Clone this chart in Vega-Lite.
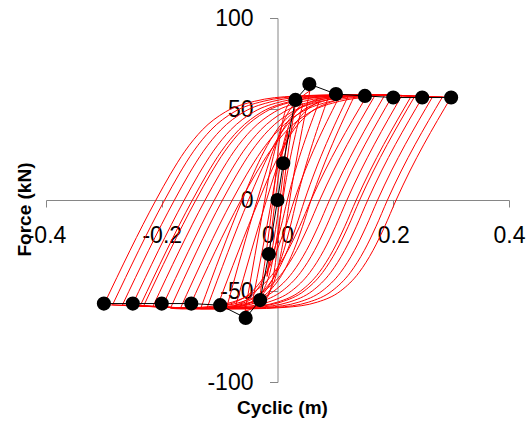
{
  "$schema": "https://vega.github.io/schema/vega-lite/v6.json",
  "width": 463,
  "height": 364,
  "autosize": "none",
  "padding": {"left": 46, "top": 18, "right": 22, "bottom": 41},
  "background": "white",
  "config": {"view": {"stroke": null}, "font": "Liberation Sans"},
  "datasets": {
    "loops": [
      {"s":"1d","disp":0.3,"force":56.5},{"s":"1d","disp":0.205,"force":0},{"s":"1d","disp":0.185,"force":-14.7},{"s":"1d","disp":0.165,"force":-27.7},{"s":"1d","disp":0.141,"force":-39.8},{"s":"1d","disp":0.109,"force":-50},{"s":"1d","disp":0.069,"force":-56.1},{"s":"1d","disp":0.013,"force":-59},{"s":"1d","disp":-0.051,"force":-59.8},{"s":"1d","disp":-0.3,"force":-57.5},
      {"s":"1a","disp":-0.3,"force":-57.5},{"s":"1a","disp":-0.21,"force":0},{"s":"1a","disp":-0.185,"force":14.2},{"s":"1a","disp":-0.16,"force":26.8},{"s":"1a","disp":-0.13,"force":38.5},{"s":"1a","disp":-0.09,"force":48.4},{"s":"1a","disp":-0.04,"force":54.2},{"s":"1a","disp":0.03,"force":57.1},{"s":"1a","disp":0.11,"force":57.8},{"s":"1a","disp":0.3,"force":56.5},
      {"s":"2d","disp":0.285,"force":56.6},{"s":"2d","disp":0.19,"force":0},{"s":"2d","disp":0.17,"force":-14.7},{"s":"2d","disp":0.15,"force":-27.7},{"s":"2d","disp":0.126,"force":-39.8},{"s":"2d","disp":0.094,"force":-50},{"s":"2d","disp":0.054,"force":-56.1},{"s":"2d","disp":-0.002,"force":-59},{"s":"2d","disp":-0.066,"force":-59.8},{"s":"2d","disp":-0.285,"force":-57.6},
      {"s":"2a","disp":-0.285,"force":-57.6},{"s":"2a","disp":-0.195,"force":0},{"s":"2a","disp":-0.17,"force":14.2},{"s":"2a","disp":-0.145,"force":26.8},{"s":"2a","disp":-0.115,"force":38.5},{"s":"2a","disp":-0.075,"force":48.4},{"s":"2a","disp":-0.025,"force":54.2},{"s":"2a","disp":0.045,"force":57.1},{"s":"2a","disp":0.125,"force":57.8},{"s":"2a","disp":0.285,"force":56.6},
      {"s":"3d","disp":0.268,"force":56.7},{"s":"3d","disp":0.173,"force":0},{"s":"3d","disp":0.153,"force":-14.7},{"s":"3d","disp":0.133,"force":-27.7},{"s":"3d","disp":0.109,"force":-39.8},{"s":"3d","disp":0.077,"force":-50},{"s":"3d","disp":0.037,"force":-56.1},{"s":"3d","disp":-0.019,"force":-59},{"s":"3d","disp":-0.083,"force":-59.8},{"s":"3d","disp":-0.268,"force":-57.7},
      {"s":"3a","disp":-0.268,"force":-57.7},{"s":"3a","disp":-0.178,"force":0},{"s":"3a","disp":-0.153,"force":14.2},{"s":"3a","disp":-0.128,"force":26.8},{"s":"3a","disp":-0.098,"force":38.5},{"s":"3a","disp":-0.058,"force":48.4},{"s":"3a","disp":-0.008,"force":54.2},{"s":"3a","disp":0.062,"force":57.1},{"s":"3a","disp":0.142,"force":57.8},{"s":"3a","disp":0.268,"force":56.7},
      {"s":"4d","disp":0.251,"force":56.7},{"s":"4d","disp":0.156,"force":0},{"s":"4d","disp":0.136,"force":-14.7},{"s":"4d","disp":0.116,"force":-27.7},{"s":"4d","disp":0.092,"force":-39.8},{"s":"4d","disp":0.06,"force":-50},{"s":"4d","disp":0.02,"force":-56.1},{"s":"4d","disp":-0.036,"force":-59},{"s":"4d","disp":-0.1,"force":-59.8},{"s":"4d","disp":-0.251,"force":-57.8},
      {"s":"4a","disp":-0.251,"force":-57.8},{"s":"4a","disp":-0.161,"force":0},{"s":"4a","disp":-0.136,"force":14.2},{"s":"4a","disp":-0.111,"force":26.8},{"s":"4a","disp":-0.081,"force":38.5},{"s":"4a","disp":-0.041,"force":48.4},{"s":"4a","disp":0.009,"force":54.2},{"s":"4a","disp":0.079,"force":57.1},{"s":"4a","disp":0.159,"force":57.8},{"s":"4a","disp":0.251,"force":56.7},
      {"s":"5d","disp":0.237,"force":56.9},{"s":"5d","disp":0.142,"force":0},{"s":"5d","disp":0.122,"force":-14.7},{"s":"5d","disp":0.102,"force":-27.7},{"s":"5d","disp":0.078,"force":-39.8},{"s":"5d","disp":0.046,"force":-50},{"s":"5d","disp":0.006,"force":-56.1},{"s":"5d","disp":-0.05,"force":-59},{"s":"5d","disp":-0.114,"force":-59.8},{"s":"5d","disp":-0.237,"force":-58},
      {"s":"5a","disp":-0.237,"force":-58},{"s":"5a","disp":-0.147,"force":0},{"s":"5a","disp":-0.122,"force":14.2},{"s":"5a","disp":-0.097,"force":26.8},{"s":"5a","disp":-0.067,"force":38.5},{"s":"5a","disp":-0.027,"force":48.4},{"s":"5a","disp":0.023,"force":54.2},{"s":"5a","disp":0.093,"force":57.1},{"s":"5a","disp":0.173,"force":57.8},{"s":"5a","disp":0.237,"force":56.9},
      {"s":"6d","disp":0.231,"force":57},{"s":"6d","disp":0.136,"force":0},{"s":"6d","disp":0.116,"force":-14.7},{"s":"6d","disp":0.096,"force":-27.7},{"s":"6d","disp":0.072,"force":-39.8},{"s":"6d","disp":0.04,"force":-50},{"s":"6d","disp":0,"force":-56.1},{"s":"6d","disp":-0.056,"force":-59},{"s":"6d","disp":-0.12,"force":-59.8},{"s":"6d","disp":-0.231,"force":-58},
      {"s":"6a","disp":-0.231,"force":-58},{"s":"6a","disp":-0.141,"force":0},{"s":"6a","disp":-0.116,"force":14.2},{"s":"6a","disp":-0.091,"force":26.8},{"s":"6a","disp":-0.061,"force":38.5},{"s":"6a","disp":-0.021,"force":48.4},{"s":"6a","disp":0.029,"force":54.2},{"s":"6a","disp":0.099,"force":57.1},{"s":"6a","disp":0.179,"force":57.8},{"s":"6a","disp":0.231,"force":57},
      {"s":"7d","disp":0.215,"force":57.5},{"s":"7d","disp":0.12,"force":0},{"s":"7d","disp":0.1,"force":-14.7},{"s":"7d","disp":0.08,"force":-27.7},{"s":"7d","disp":0.056,"force":-39.8},{"s":"7d","disp":0.024,"force":-50},{"s":"7d","disp":-0.016,"force":-56.1},{"s":"7d","disp":-0.072,"force":-59},{"s":"7d","disp":-0.136,"force":-59.8},{"s":"7d","disp":-0.215,"force":-58.3},
      {"s":"7a","disp":-0.215,"force":-58.3},{"s":"7a","disp":-0.125,"force":0},{"s":"7a","disp":-0.1,"force":14.2},{"s":"7a","disp":-0.075,"force":26.8},{"s":"7a","disp":-0.045,"force":38.5},{"s":"7a","disp":-0.005,"force":48.4},{"s":"7a","disp":0.045,"force":54.2},{"s":"7a","disp":0.115,"force":57.1},{"s":"7a","disp":0.195,"force":57.8},{"s":"7a","disp":0.215,"force":57.5},
      {"s":"8d","disp":0.199,"force":57.5},{"s":"8d","disp":0.104,"force":0},{"s":"8d","disp":0.084,"force":-14.7},{"s":"8d","disp":0.064,"force":-27.7},{"s":"8d","disp":0.04,"force":-39.8},{"s":"8d","disp":0.008,"force":-50},{"s":"8d","disp":-0.032,"force":-56.1},{"s":"8d","disp":-0.088,"force":-59},{"s":"8d","disp":-0.152,"force":-59.8},{"s":"8d","disp":-0.199,"force":-58.5},
      {"s":"8a","disp":-0.199,"force":-58.5},{"s":"8a","disp":-0.109,"force":0},{"s":"8a","disp":-0.084,"force":14.2},{"s":"8a","disp":-0.059,"force":26.8},{"s":"8a","disp":-0.029,"force":38.5},{"s":"8a","disp":0.011,"force":48.4},{"s":"8a","disp":0.061,"force":54.2},{"s":"8a","disp":0.131,"force":57.1},{"s":"8a","disp":0.199,"force":57.5},
      {"s":"9d","disp":0.185,"force":57.5},{"s":"9d","disp":0.09,"force":0},{"s":"9d","disp":0.07,"force":-14.7},{"s":"9d","disp":0.05,"force":-27.7},{"s":"9d","disp":0.026,"force":-39.8},{"s":"9d","disp":-0.006,"force":-50},{"s":"9d","disp":-0.046,"force":-56.1},{"s":"9d","disp":-0.102,"force":-59},{"s":"9d","disp":-0.166,"force":-59.8},{"s":"9d","disp":-0.185,"force":-59.5},
      {"s":"9a","disp":-0.185,"force":-59.5},{"s":"9a","disp":-0.095,"force":0},{"s":"9a","disp":-0.07,"force":14.2},{"s":"9a","disp":-0.045,"force":26.8},{"s":"9a","disp":-0.015,"force":38.5},{"s":"9a","disp":0.025,"force":48.4},{"s":"9a","disp":0.075,"force":54.2},{"s":"9a","disp":0.145,"force":57.1},{"s":"9a","disp":0.185,"force":57.5},
      {"s":"10d","disp":0.168,"force":57.2},{"s":"10d","disp":0.073,"force":0},{"s":"10d","disp":0.053,"force":-14.7},{"s":"10d","disp":0.033,"force":-27.7},{"s":"10d","disp":0.009,"force":-39.8},{"s":"10d","disp":-0.023,"force":-50},{"s":"10d","disp":-0.063,"force":-56.1},{"s":"10d","disp":-0.119,"force":-59},{"s":"10d","disp":-0.168,"force":-59.7},
      {"s":"10a","disp":-0.168,"force":-59.7},{"s":"10a","disp":-0.078,"force":0},{"s":"10a","disp":-0.053,"force":14.2},{"s":"10a","disp":-0.028,"force":26.8},{"s":"10a","disp":0.002,"force":38.5},{"s":"10a","disp":0.042,"force":48.4},{"s":"10a","disp":0.092,"force":54.2},{"s":"10a","disp":0.168,"force":57.2},
      {"s":"11d","disp":0.153,"force":56.5},{"s":"11d","disp":0.058,"force":0},{"s":"11d","disp":0.038,"force":-14.7},{"s":"11d","disp":0.018,"force":-27.7},{"s":"11d","disp":-0.006,"force":-39.8},{"s":"11d","disp":-0.038,"force":-50},{"s":"11d","disp":-0.078,"force":-56.1},{"s":"11d","disp":-0.134,"force":-59},{"s":"11d","disp":-0.153,"force":-59.3},
      {"s":"11a","disp":-0.153,"force":-59.3},{"s":"11a","disp":-0.063,"force":0},{"s":"11a","disp":-0.038,"force":14.2},{"s":"11a","disp":-0.013,"force":26.8},{"s":"11a","disp":0.017,"force":38.5},{"s":"11a","disp":0.057,"force":48.4},{"s":"11a","disp":0.107,"force":54.2},{"s":"11a","disp":0.153,"force":56.5},
      {"s":"12d","disp":0.133,"force":57.3},{"s":"12d","disp":0.058,"force":0},{"s":"12d","disp":0.043,"force":-14.7},{"s":"12d","disp":0.028,"force":-27.7},{"s":"12d","disp":0.01,"force":-39.8},{"s":"12d","disp":-0.014,"force":-50},{"s":"12d","disp":-0.044,"force":-56.1},{"s":"12d","disp":-0.086,"force":-59},{"s":"12d","disp":-0.133,"force":-59.8},
      {"s":"12a","disp":-0.133,"force":-59.8},{"s":"12a","disp":-0.061,"force":0},{"s":"12a","disp":-0.042,"force":14.2},{"s":"12a","disp":-0.023,"force":26.8},{"s":"12a","disp":-0.001,"force":38.5},{"s":"12a","disp":0.029,"force":48.4},{"s":"12a","disp":0.067,"force":54.2},{"s":"12a","disp":0.119,"force":57.1},{"s":"12a","disp":0.133,"force":57.3},
      {"s":"13d","disp":0.122,"force":57},{"s":"13d","disp":0.047,"force":0},{"s":"13d","disp":0.032,"force":-14.7},{"s":"13d","disp":0.017,"force":-27.7},{"s":"13d","disp":-0.001,"force":-39.8},{"s":"13d","disp":-0.025,"force":-50},{"s":"13d","disp":-0.055,"force":-56.1},{"s":"13d","disp":-0.097,"force":-59},{"s":"13d","disp":-0.122,"force":-59.5},
      {"s":"13a","disp":-0.122,"force":-59.5},{"s":"13a","disp":-0.05,"force":0},{"s":"13a","disp":-0.031,"force":14.2},{"s":"13a","disp":-0.012,"force":26.8},{"s":"13a","disp":0.01,"force":38.5},{"s":"13a","disp":0.04,"force":48.4},{"s":"13a","disp":0.078,"force":54.2},{"s":"13a","disp":0.122,"force":57},
      {"s":"14d","disp":0.104,"force":55},{"s":"14d","disp":0.029,"force":0},{"s":"14d","disp":0.014,"force":-14.7},{"s":"14d","disp":-0.001,"force":-27.7},{"s":"14d","disp":-0.019,"force":-39.8},{"s":"14d","disp":-0.043,"force":-50},{"s":"14d","disp":-0.073,"force":-56.1},{"s":"14d","disp":-0.104,"force":-58.5},
      {"s":"14a","disp":-0.104,"force":-58.5},{"s":"14a","disp":-0.032,"force":0},{"s":"14a","disp":-0.013,"force":14.2},{"s":"14a","disp":0.006,"force":26.8},{"s":"14a","disp":0.028,"force":38.5},{"s":"14a","disp":0.058,"force":48.4},{"s":"14a","disp":0.096,"force":54.2},{"s":"14a","disp":0.104,"force":55},
      {"s":"15d","disp":0.088,"force":56.6},{"s":"15d","disp":0.033,"force":0},{"s":"15d","disp":0.022,"force":-14.7},{"s":"15d","disp":0.011,"force":-27.7},{"s":"15d","disp":-0.003,"force":-39.8},{"s":"15d","disp":-0.021,"force":-50},{"s":"15d","disp":-0.044,"force":-56.1},{"s":"15d","disp":-0.075,"force":-59},{"s":"15d","disp":-0.088,"force":-59.3},
      {"s":"15a","disp":-0.088,"force":-59.3},{"s":"15a","disp":-0.035,"force":0},{"s":"15a","disp":-0.021,"force":14.2},{"s":"15a","disp":-0.008,"force":26.8},{"s":"15a","disp":0.009,"force":38.5},{"s":"15a","disp":0.031,"force":48.4},{"s":"15a","disp":0.059,"force":54.2},{"s":"15a","disp":0.088,"force":56.6},
      {"s":"16d","disp":0.072,"force":54},{"s":"16d","disp":0.017,"force":0},{"s":"16d","disp":0.006,"force":-14.7},{"s":"16d","disp":-0.006,"force":-27.7},{"s":"16d","disp":-0.019,"force":-39.8},{"s":"16d","disp":-0.037,"force":-50},{"s":"16d","disp":-0.06,"force":-56.1},{"s":"16d","disp":-0.072,"force":-57.8},
      {"s":"16a","disp":-0.072,"force":-57.8},{"s":"16a","disp":-0.019,"force":0},{"s":"16a","disp":-0.005,"force":14.2},{"s":"16a","disp":0.009,"force":26.8},{"s":"16a","disp":0.025,"force":38.5},{"s":"16a","disp":0.047,"force":48.4},{"s":"16a","disp":0.072,"force":54},
      {"s":"17d","disp":0.056,"force":60},{"s":"17d","disp":0.021,"force":0},{"s":"17d","disp":0.014,"force":-14.7},{"s":"17d","disp":0.007,"force":-27.7},{"s":"17d","disp":-0.001,"force":-39.8},{"s":"17d","disp":-0.013,"force":-50},{"s":"17d","disp":-0.027,"force":-56.5},{"s":"17d","disp":-0.046,"force":-60},{"s":"17d","disp":-0.056,"force":-61},
      {"s":"17a","disp":-0.056,"force":-61},{"s":"17a","disp":-0.022,"force":0},{"s":"17a","disp":-0.014,"force":14.2},{"s":"17a","disp":-0.005,"force":26.8},{"s":"17a","disp":0.005,"force":38.5},{"s":"17a","disp":0.019,"force":48.4},{"s":"17a","disp":0.036,"force":55},{"s":"17a","disp":0.056,"force":60},
      {"s":"18d","disp":0.044,"force":53},{"s":"18d","disp":0.009,"force":0},{"s":"18d","disp":0.002,"force":-14.7},{"s":"18d","disp":-0.005,"force":-27.7},{"s":"18d","disp":-0.013,"force":-39.8},{"s":"18d","disp":-0.025,"force":-50},{"s":"18d","disp":-0.039,"force":-56.1},{"s":"18d","disp":-0.044,"force":-57},
      {"s":"18a","disp":-0.044,"force":-57},{"s":"18a","disp":-0.01,"force":0},{"s":"18a","disp":-0.002,"force":14.2},{"s":"18a","disp":0.007,"force":26.8},{"s":"18a","disp":0.017,"force":38.5},{"s":"18a","disp":0.031,"force":48.4},{"s":"18a","disp":0.044,"force":53},
      {"s":"19d","disp":0.032,"force":55},{"s":"19d","disp":0.008,"force":0},{"s":"19d","disp":0.003,"force":-14.7},{"s":"19d","disp":-0.001,"force":-27.7},{"s":"19d","disp":-0.006,"force":-39.8},{"s":"19d","disp":-0.013,"force":-50},{"s":"19d","disp":-0.022,"force":-55},{"s":"19d","disp":-0.032,"force":-56},
      {"s":"19a","disp":-0.032,"force":-56},{"s":"19a","disp":-0.008,"force":0},{"s":"19a","disp":-0.003,"force":14.2},{"s":"19a","disp":0.001,"force":26.8},{"s":"19a","disp":0.006,"force":38.5},{"s":"19a","disp":0.013,"force":48.4},{"s":"19a","disp":0.022,"force":53.5},{"s":"19a","disp":0.032,"force":55},
      {"s":"20d","disp":0.018,"force":38},{"s":"20d","disp":0.004,"force":0},{"s":"20d","disp":-0.008,"force":-25},{"s":"20d","disp":-0.018,"force":-42},
      {"s":"20a","disp":-0.018,"force":-42},{"s":"20a","disp":-0.004,"force":0},{"s":"20a","disp":0.008,"force":25},{"s":"20a","disp":0.018,"force":38}
    ],
    "backbone": [
      {"disp":-0.3,"force":-56.9},{"disp":-0.25,"force":-56.9},{"disp":-0.2,"force":-56.9},{"disp":-0.149,"force":-56.9},{"disp":-0.099,"force":-57.8},{"disp":-0.055,"force":-64.8},{"disp":-0.03,"force":-55},{"disp":-0.015,"force":-29.7},{"disp":0,"force":0},{"disp":0.01,"force":20.2},{"disp":0.031,"force":55},{"disp":0.055,"force":63.7},{"disp":0.101,"force":58.2},{"disp":0.151,"force":57.2},{"disp":0.2,"force":56.3},{"disp":0.25,"force":56.3},{"disp":0.3,"force":56.3}
    ]
  },
  "encoding": {
    "x": {
      "field": "disp", "type": "quantitative",
      "scale": {"domain": [-0.4, 0.4], "nice": false, "zero": false},
      "axis": {
        "title": "Cyclic (m)", "values": [-0.4, -0.2, 0, 0.2, 0.4], "grid": false, "offset": -182,
        "domainColor": "#868686", "tickColor": "#868686", "tickSize": 7,
        "labelFontSize": 23, "labelColor": "#000000", "labelPadding": 17, "labelFlush": false, "labelOverlap": false,
        "labelExpr": "replace(datum.label, '\u2212', '-')",
        "titleFontSize": 19, "titleFontWeight": "bold", "titleColor": "#000000",
        "titleX": 236, "titleY": 213, "titleBaseline": "alphabetic", "titleAlign": "center"
      }
    },
    "y": {
      "field": "force", "type": "quantitative",
      "scale": {"domain": [-100, 100], "nice": false, "zero": false},
      "axis": {
        "title": "Force (kN)", "values": [-100, -50, 0, 50, 100], "grid": false, "offset": -231.5,
        "domainColor": "#868686", "tickColor": "#868686", "tickSize": 8,
        "labelFontSize": 23, "labelColor": "#000000", "labelPadding": 16.5, "labelOverlap": false, "labelFlush": false,
        "labelExpr": "replace(datum.label, '\u2212', '-')",
        "titleFontSize": 19, "titleFontWeight": "bold", "titleColor": "#000000",
        "titleX": -247.5, "titleY": 191, "titleAngle": -90, "titleBaseline": "alphabetic", "titleAlign": "center"
      }
    }
  },
  "layer": [
    {
      "data": {"name": "loops"},
      "mark": {"type": "line", "color": "#FF0000", "strokeWidth": 1, "interpolate": "monotone"},
      "encoding": {"detail": {"field": "s", "type": "nominal"}}
    },
    {
      "data": {"name": "backbone"},
      "mark": {"type": "line", "color": "#000000", "strokeWidth": 1},
      "encoding": {}
    },
    {
      "data": {"name": "backbone"},
      "mark": {"type": "point", "filled": true, "color": "#000000", "size": 200, "opacity": 1},
      "encoding": {}
    }
  ]
}
